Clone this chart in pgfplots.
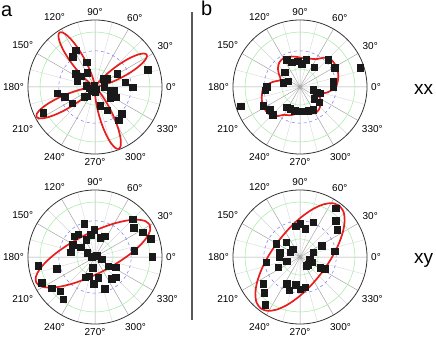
\documentclass[border=0pt]{standalone}
\usepackage{fontspec}
\setmainfont{Liberation Sans}
\usepackage{pgfplots}
\pgfplotsset{compat=1.18}
\usepgfplotslibrary{polar}

\definecolor{fitred}{RGB}{232,30,30}
\definecolor{ringgreen}{RGB}{160,235,160}
\definecolor{ringblue}{RGB}{120,120,250}
\definecolor{spoke}{RGB}{165,165,165}

\pgfplotsset{
  pol/.style={
    scale only axis, width=134pt, height=134pt, anchor=center,
    ymin=0, ymax=1,
    xtick={0,30,...,330},
    xticklabels={0°,30°,60°,90°,120°,150°,180°,210°,240°,270°,300°,330°},
    minor xtick={15,45,...,345},
    ytick={0.27,0.82}, yticklabels={},
    extra y ticks={0.54}, extra y tick labels={},
    extra y tick style={grid=major, major y grid style={ringblue, dashed, line width=0.5pt}},
    grid=both,
    major x grid style={spoke, line width=0.5pt},
    minor x grid style={spoke!45, line width=0.4pt},
    major y grid style={ringgreen, line width=0.5pt},
    x axis line style={black!80, line width=0.8pt},
    y axis line style={draw=none},
    major tick length=0pt, minor tick length=0pt,
    tick label style={font=\fontsize{10}{11}\selectfont},
    xticklabel style={inner sep=4pt},
    clip=false,
  },
  pts/.style={only marks, mark=square*, mark size=3.3pt, black!90, data cs=cart},
  fit/.style={fitred, line width=1.7pt, smooth, no markers},
}

\begin{document}
\begin{tikzpicture}
\path[use as bounding box] (0,0) rectangle (436pt,340pt);

% a, xx
\begin{polaraxis}[pol, at={(95pt,253pt)}]
\addplot[fit] coordinates {(83,0) (93,0.004) (98,0.028) (103,0.115) (105.5,0.197) (108,0.307) (110.5,0.441) (113,0.590) (115.5,0.735) (118,0.858) (120.5,0.941) (123,0.97) (125.5,0.941) (128,0.858) (130.5,0.735) (133,0.590) (135.5,0.441) (138,0.307) (140.5,0.197) (143,0.115) (148,0.028) (153,0.004) (163,0)};
\addplot[fit] coordinates {(-8,0) (2,0.004) (7,0.026) (12,0.108) (14.5,0.185) (17,0.288) (19.5,0.414) (22,0.553) (24.5,0.690) (27,0.805) (29.5,0.883) (32,0.91) (34.5,0.883) (37,0.805) (39.5,0.690) (42,0.553) (44.5,0.414) (47,0.288) (49.5,0.185) (52,0.108) (57,0.026) (62,0.004) (72,0)};
\addplot[fit] coordinates {(167,0) (177,0.004) (182,0.028) (187,0.117) (189.5,0.199) (192,0.310) (194.5,0.446) (197,0.596) (199.5,0.743) (202,0.867) (204.5,0.951) (207,0.98) (209.5,0.951) (212,0.867) (214.5,0.743) (217,0.596) (219.5,0.446) (222,0.310) (224.5,0.199) (227,0.117) (232,0.028) (237,0.004) (247,0)};
\addplot[fit] coordinates {(251,0) (261,0.004) (266,0.029) (271,0.118) (273.5,0.201) (276,0.313) (278.5,0.450) (281,0.602) (283.5,0.750) (286,0.876) (288.5,0.960) (291,0.99) (293.5,0.960) (296,0.876) (298.5,0.750) (301,0.602) (303.5,0.450) (306,0.313) (308.5,0.201) (311,0.118) (316,0.029) (321,0.004) (331,0)};
\addplot[pts] coordinates {(-0.284,0.547) (-0.333,0.448) (-0.124,0.373) (-0.284,0.199) (-0.209,0.159) (-0.264,0.095) (-0.114,0.209) (-0.134,0.020) (-0.075,-0.015) (-0.010,0.025) (0.010,-0.030) (0.001,-0.080) (-0.050,-0.065) (0.124,0.124) (0.174,0.124) (0.448,0.070) (0.562,-0.005) (0.786,0.254) (0.333,0.199) (0.139,0.001) (0.224,-0.050) (0.284,-0.050) (0.224,-0.164) (0.313,-0.154) (0.075,-0.279) (0.184,-0.348) (0.398,-0.403) (0.358,-0.498) (-0.562,-0.090) (-0.448,-0.149) (-0.338,-0.244) (-0.771,-0.388) (-0.164,-0.149) (-0.114,-0.139)};
\end{polaraxis}

% b, xx
\begin{polaraxis}[pol, at={(300pt,253pt)}]
\addplot[fit] coordinates {(0,0.54) (10,0.575) (20,0.605) (30,0.62) (40,0.62) (50,0.57) (60,0.48) (70,0.45) (80,0.43) (90,0.44) (100,0.46) (110,0.48) (120,0.495) (130,0.48) (140,0.43) (150,0.36) (160,0.31) (170,0.42) (180,0.54) (190,0.575) (200,0.605) (210,0.62) (220,0.62) (230,0.57) (240,0.48) (250,0.45) (260,0.41) (270,0.39) (280,0.40) (290,0.42) (300,0.45) (310,0.44) (320,0.40) (330,0.35) (340,0.32) (350,0.43) (360,0.54)};
\addplot[pts] coordinates {(-0.199,0.408) (-0.124,0.373) (-0.035,0.383) (0.090,0.408) (0.025,0.348) (0.209,0.294) (-0.224,0.219) (-0.174,0.085) (-0.249,0.060) (0.423,0.408) (0.522,0.284) (0.498,0.085) (0.498,0.001) (0.199,-0.040) (0.249,-0.080) (0.299,-0.090) (0.214,-0.179) (0.284,-0.224) (-0.199,-0.299) (-0.149,-0.328) (-0.075,-0.353) (0.025,-0.363) (0.124,-0.353) (0.199,-0.338) (-0.547,-0.279) (-0.448,-0.338) (-0.408,-0.413) (-0.522,-0.050) (-0.498,0.001) (-0.886,-0.289) (0.896,0.284)};
\end{polaraxis}

% a, xy
\begin{polaraxis}[pol, at={(95pt,83pt)}]
\addplot[fit, data cs=cart] coordinates {(0.8165,0.4813) (0.7524,0.5358) (0.6349,0.5572) (0.4723,0.5440) (0.2753,0.4972) (0.0575,0.4198) (-0.1662,0.3173) (-0.3807,0.1966) (-0.5711,0.0658) (-0.7249,-0.0660) (-0.8311,-0.1898) (-0.8830,-0.2974) (-0.8765,-0.3813) (-0.8124,-0.4358) (-0.6949,-0.4572) (-0.5323,-0.4440) (-0.3353,-0.3972) (-0.1175,-0.3198) (0.1062,-0.2173) (0.3207,-0.0966) (0.5111,0.0342) (0.6649,0.1660) (0.7711,0.2898) (0.8230,0.3974) (0.8165,0.4813)};
\addplot[pts] coordinates {(-0.164,0.493) (-0.249,0.343) (-0.313,0.308) (-0.134,0.259) (-0.065,0.333) (-0.010,0.408) (0.075,0.284) (0.149,0.308) (-0.214,0.149) (-0.333,0.184) (-0.363,0.070) (-0.114,0.060) (-0.050,0.001) (0.025,0.020) (0.100,-0.030) (-0.035,-0.164) (0.199,-0.139) (0.313,-0.154) (-0.085,-0.289) (-0.149,-0.299) (0.050,-0.313) (-0.015,-0.398) (0.149,-0.473) (0.249,-0.328) (0.308,-0.299) (0.562,0.567) (0.582,0.433) (0.711,0.368) (0.831,0.274) (0.587,0.095) (0.856,0.001) (-0.846,-0.129) (-0.572,-0.179) (-0.796,-0.388) (-0.647,-0.463) (-0.522,-0.512) (-0.473,-0.627)};
\end{polaraxis}

% b, xy
\begin{polaraxis}[pol, at={(300pt,83pt)}]
\addplot[fit, data cs=cart] coordinates {(0.5861,0.7666) (0.4839,0.8034) (0.3487,0.7854) (0.1898,0.7139) (0.0179,0.5937) (-0.1553,0.4331) (-0.3178,0.2430) (-0.4587,0.0363) (-0.5683,-0.1729) (-0.6392,-0.3703) (-0.6665,-0.5424) (-0.6485,-0.6776) (-0.5861,-0.7666) (-0.4839,-0.8034) (-0.3487,-0.7854) (-0.1898,-0.7139) (-0.0179,-0.5937) (0.1553,-0.4331) (0.3178,-0.2430) (0.4587,-0.0363) (0.5683,0.1729) (0.6392,0.3703) (0.6665,0.5424) (0.6485,0.6776) (0.5861,0.7666)};
\addplot[pts] coordinates {(0.532,0.731) (0.537,0.542) (0.557,0.408) (0.199,0.522) (0.075,0.418) (0.001,0.498) (-0.060,0.458) (0.522,0.085) (0.373,-0.179) (0.323,0.169) (0.199,0.070) (0.149,-0.040) (0.124,-0.114) (0.090,-0.129) (0.174,-0.080) (0.299,-0.164) (-0.358,0.199) (-0.209,0.219) (-0.109,0.119) (-0.149,0.070) (-0.299,0.060) (-0.308,0.001) (-0.199,-0.065) (-0.507,-0.080) (-0.323,-0.154) (-0.199,-0.398) (-0.159,-0.498) (-0.060,-0.413) (0.001,-0.478) (0.075,-0.448) (-0.547,-0.398) (-0.537,-0.537) (-0.522,-0.711)};
\end{polaraxis}

\draw[black!65, line width=1.2pt] (192pt,20pt) -- (192pt,328pt);
\node[font=\fontsize{20}{20}\selectfont, anchor=base west, inner sep=0pt] at (1pt,323pt) {a};
\node[font=\fontsize{20}{20}\selectfont, anchor=base west, inner sep=0pt] at (201pt,324pt) {b};
\node[font=\fontsize{19}{19}\selectfont, anchor=base west, inner sep=0pt] at (414pt,245pt) {xx};
\node[font=\fontsize{19}{19}\selectfont, anchor=base west, inner sep=0pt] at (414pt,76pt) {xy};
\end{tikzpicture}
\end{document}
